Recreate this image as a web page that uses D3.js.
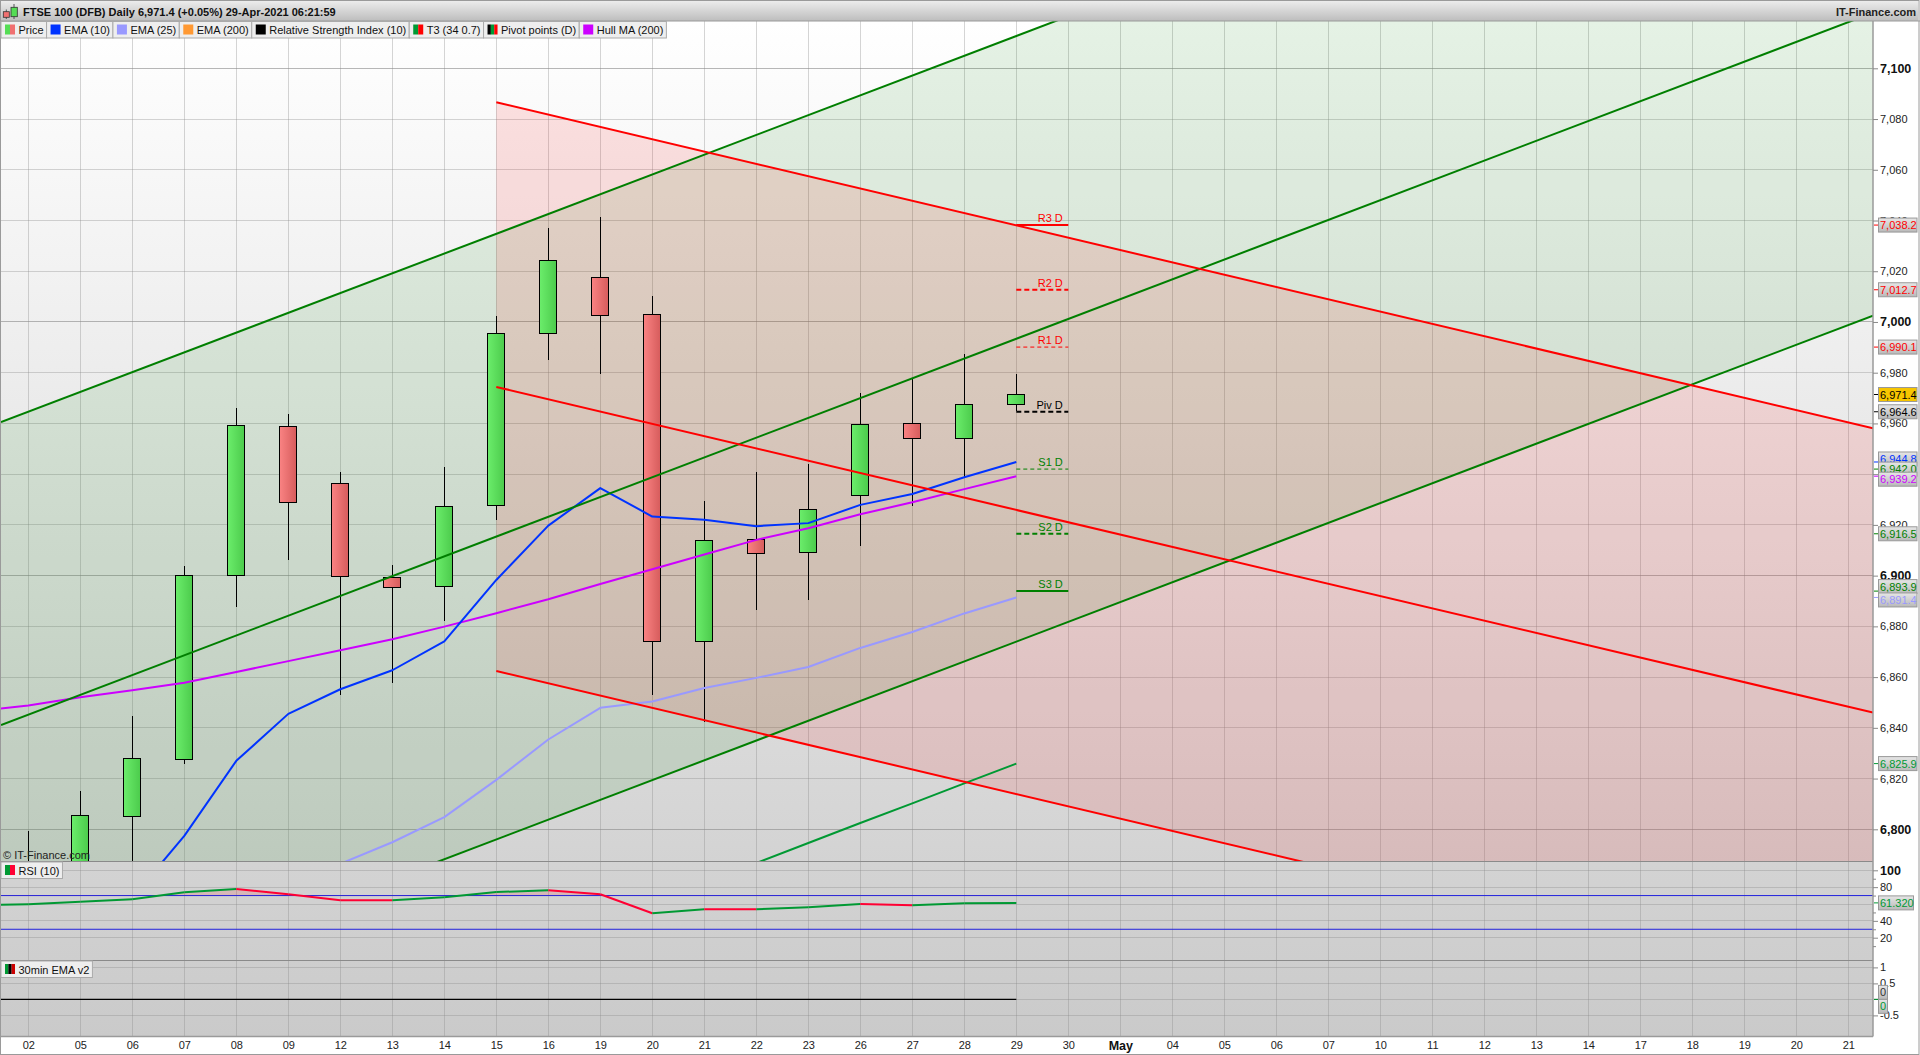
<!DOCTYPE html>
<html>
<head>
<meta charset="utf-8">
<script src="https://cdn.jsdelivr.net/npm/d3@7"></script>
<style>
  html, body { margin: 0; padding: 0; background: #fff; }
  svg { display: block; font-family: "Liberation Sans", Arial, sans-serif; font-size: 11px; }
  .axis path { display: none; }
  .axis line { stroke: #888; }
  .axis text { fill: #222; font-size: 11px; }
  .axis .major text { font-weight: bold; font-size: 12.5px; fill: #111; }
  .grid line { stroke: #8a8a8a; stroke-opacity: .36; shape-rendering: crispEdges; }
  .grid .major { stroke-opacity: .62; }
  .wick { stroke: #000; stroke-width: 1.1; shape-rendering: crispEdges; }
  .body { stroke: #000; stroke-width: 1; shape-rendering: crispEdges; }
  .ln { fill: none; stroke-width: 2; stroke-linejoin: round; }
</style>
</head>
<body>
<svg id="svg" width="1920" height="1055"></svg>
<script>
// x axis labels, one per trading day
var dayLabels = ["02","05","06","07","08","09","12","13","14","15","16","19","20","21","22","23","26","27","28","29","30","May","04","05","06","07","10","11","12","13","14","17","18","19","20","21"];

// candles, 02 Apr .. 29 Apr (first three open below the visible range)
var opens  = [6760, 6782, 6805.2, 6827.6, 6900.2, 6958.9, 6936.4, 6899.4, 6895.8, 6927.7, 6995.5, 7017.6, 7003, 6874, 6914.3, 6909.2, 6931.7, 6960.1, 6954.2, 6967.6];
var closes = [6780, 6805.6, 6828, 6900.2, 6959.3, 6928.9, 6899.8, 6895.3, 6927.4, 6995.3, 7024.3, 7002.6, 6874, 6914, 6908.8, 6926.2, 6959.7, 6954.2, 6967.6, 6971.5];
var highs  = [6799.4, 6815.1, 6844.7, 6903.8, 6966, 6963.7, 6940.9, 6904.2, 6942.8, 7002.4, 7037.1, 7041.3, 7010.2, 6929.4, 6940.9, 6944, 6971.9, 6977.5, 6987.3, 6979.5];
var lows   = [6750, 6775, 6780, 6825.9, 6887.8, 6906.3, 6853.1, 6857.8, 6882.3, 6922, 6985.1, 6979.6, 6852.8, 6842.3, 6886.5, 6890.4, 6911.8, 6927.6, 6939, 6965];

// indicators: values start at the given day index
var ema10Start = 2;
var ema10 = [6773, 6797.4, 6827, 6845.5, 6855.2, 6862.7, 6874.1, 6898.3, 6919.7, 6934.5, 6923.3, 6922, 6919.5, 6920.7, 6927.9, 6932.2, 6938.8, 6944.8];
var ema25Start = 6;
var ema25 = [6786.4, 6794.9, 6804.8, 6819.5, 6835.4, 6847.9, 6850.4, 6855.7, 6859.7, 6864, 6871.5, 6877.8, 6885.1, 6891.4];
var hullStart = -1;
var hull = [6846.5, 6848.8, 6852.1, 6854.8, 6857.8, 6862, 6866.3, 6870.6, 6874.9, 6879.9, 6885.2, 6890.7, 6896.7, 6902.5, 6908.3, 6914.1, 6918.7, 6924.2, 6928.9, 6934.1, 6939.2];
var t3Start = 14;
var t3 = [6786.7, 6794.6, 6802.5, 6810.2, 6818.1, 6825.9];
var rsiStart = -1;
var rsi = [58.5, 59.6, 62.7, 65.6, 73.9, 77.8, 71.5, 64.4, 64.4, 68, 74.2, 76.3, 71.5, 49, 53.7, 53.7, 56.1, 60, 58.5, 60.8, 61.32];

// channels: [index, value] end points
var greenUpper = [[-0.525, 6960.5], [35.475, 7241.2]];
var greenMid   = [[-0.525, 6841.1], [35.475, 7121.9]];
var greenLower = [[-0.525, 6721.7], [35.475, 7002.5]];
var redUpper   = [[9, 7086.6], [35.475, 6958.1]];
var redMid     = [[9, 6974.4], [35.475, 6846]];
var redLower   = [[9, 6862.4], [35.475, 6734]];

// daily pivots
var pivotNames  = ["R3 D", "R2 D", "R1 D", "Piv D", "S1 D", "S2 D", "S3 D"];
var pivotValues = [7038.2, 7012.7, 6990.1, 6964.6, 6942.0, 6916.5, 6893.9];

// axis ticks
var priceTicks = [7100, 7080, 7060, 7040, 7020, 7000, 6980, 6960, 6940, 6920, 6900, 6880, 6860, 6840, 6820, 6800];
var rsiTicks = [100, 80, 60, 40, 20];
var rsiLabels = [100, 80, 40, 20];
var rsiMinor = [90, 70, 50, 30, 10];
var rsiBands = [70, 30];
var emaTicks = [1, 0.5, 0, -0.5];
var emaLabels = [1, 0.5, -0.5];

// price tags on the right axis (drawn in this order)
var tagValues = [7038.2, 7012.7, 6990.1, 6971.4, 6964.6, 6944.8, 6942.0, 6939.2, 6916.5, 6893.9, 6891.4, 6825.9];

var legendNames = ["Price", "EMA (10)", "EMA (25)", "EMA (200)", "Relative Strength Index (10)", "T3 (34 0.7)", "Pivot points (D)", "Hull MA (200)"];

var titleText = "FTSE 100 (DFB) Daily 6,971.4 (+0.05%) 29-Apr-2021 06:21:59";

// ---- layout
var left = 1, right = 1873;
var top0 = 21, mainBottom = 861, rsiBottom = 960.5, emaBottom = 1036.5;

var svg = d3.select("#svg");
var x = d3.scaleLinear().domain([-0.525, 35.475]).range([left, right]);
var y = d3.scaleLinear().domain([7100, 6800]).range([68.3, 829.3]);
var yRsi = d3.scaleLinear().domain([100, 20]).range([870.3, 937.7]);
var yEma = d3.scaleLinear().domain([1, -0.5]).range([967.4, 1015.4]);

var defs = svg.append("defs");

function gradient(id, stops, horizontal) {
  var g = defs.append("linearGradient").attr("id", id)
    .attr("x1", 0).attr("y1", 0)
    .attr("x2", horizontal ? 1 : 0).attr("y2", horizontal ? 0 : 1);
  stops.forEach(function (s, i) {
    g.append("stop").attr("offset", i / (stops.length - 1)).attr("stop-color", s);
  });
}
gradient("bg", ["#ffffff", "#cacaca"]);
gradient("bar", ["#ececec", "#bdbdbd"]);
gradient("tag", ["#e6e6e6", "#b9b9b9"]);
gradient("up", ["#6cee6c", "#4ccb4c"], true);
gradient("down", ["#fb8484", "#d65c5c"], true);

defs.append("clipPath").attr("id", "clipMain").append("rect")
  .attr("x", left).attr("y", top0).attr("width", right - left).attr("height", mainBottom - top0);
defs.append("clipPath").attr("id", "clipRsi").append("rect")
  .attr("x", left).attr("y", mainBottom).attr("width", right - left).attr("height", rsiBottom - mainBottom);
defs.append("clipPath").attr("id", "clipRsiHigh").append("rect")
  .attr("x", left).attr("y", mainBottom).attr("width", right - left).attr("height", yRsi(70) - mainBottom);

// background
svg.append("rect").attr("width", 1920).attr("height", 1055).attr("fill", "#fff");
svg.append("rect").attr("x", left).attr("y", top0).attr("width", right - left).attr("height", emaBottom - top0).attr("fill", "url(#bg)");

// ---- grid
var grid = svg.append("g").attr("class", "grid");
grid.selectAll("line.v").data(dayLabels).enter().append("line").attr("class", "v")
  .attr("x1", function (d, i) { return x(i); }).attr("x2", function (d, i) { return x(i); })
  .attr("y1", top0).attr("y2", emaBottom);

function hLines(ticks, scale, isMajor) {
  grid.selectAll(null).data(ticks).enter().append("line")
    .attr("class", function (d) { return isMajor(d) ? "major" : null; })
    .attr("x1", left).attr("x2", right)
    .attr("y1", function (d) { return scale(d); }).attr("y2", function (d) { return scale(d); });
}
hLines(priceTicks, y, function (d) { return d % 100 === 0; });
hLines(rsiTicks, yRsi, function () { return false; });
hLines(emaTicks, yEma, function () { return false; });
grid.selectAll(null).data([mainBottom, rsiBottom]).enter().append("line").attr("class", "major")
  .attr("x1", left).attr("x2", right)
  .attr("y1", function (d) { return d; }).attr("y2", function (d) { return d; })
  .style("stroke-opacity", 1);

// ---- channels fill
var main = svg.append("g").attr("clip-path", "url(#clipMain)");
function band(lo, hi) {
  return d3.area()
    .x(function (d, i) { return x(lo[i][0]); })
    .y0(function (d, i) { return y(lo[i][1]); })
    .y1(function (d, i) { return y(hi[i][1]); })(lo);
}
main.append("path").attr("d", band(greenLower, greenUpper)).attr("fill", "#008000").attr("fill-opacity", .1);
main.append("path").attr("d", band(redLower, redUpper)).attr("fill", "#ff0000").attr("fill-opacity", .11);

// ---- candles
var days = opens.map(function (o, i) { return i; });
var bodyW = (x(1) - x(0)) / 3;
main.selectAll("line.wick").data(days).enter().append("line").attr("class", "wick")
  .attr("x1", function (i) { return x(i); }).attr("x2", function (i) { return x(i); })
  .attr("y1", function (i) { return y(highs[i]); }).attr("y2", function (i) { return y(lows[i]); });
main.selectAll("rect.body").data(days).enter().append("rect").attr("class", "body")
  .attr("x", function (i) { return x(i) - bodyW / 2 - .5; })
  .attr("width", bodyW)
  .attr("y", function (i) { return y(Math.max(opens[i], closes[i])); })
  .attr("height", function (i) { return Math.abs(y(opens[i]) - y(closes[i])); })
  .attr("fill", function (i) { return closes[i] >= opens[i] ? "url(#up)" : "url(#down)"; });

// ---- indicator lines
var line = d3.line().x(function (d) { return x(d[0]); }).y(function (d) { return y(d[1]); });
function series(values, start) {
  return values.map(function (v, i) { return [start + i, v]; });
}
function drawLine(parent, gen, pts, color, w) {
  return parent.append("path").attr("class", "ln").attr("d", gen(pts))
    .attr("stroke", color).style("stroke-width", w || 2);
}
drawLine(main, line, series(ema25, ema25Start), "#9999ff");
drawLine(main, line, series(hull, hullStart), "#cc00ff");
drawLine(main, line, series(ema10, ema10Start), "#0033ff");
drawLine(main, line, series(t3, t3Start), "#009933");
[greenUpper, greenMid, greenLower].forEach(function (c) { drawLine(main, line, c, "#007f00"); });
[redUpper, redMid, redLower].forEach(function (c) { drawLine(main, line, c, "#ff0000"); });

// ---- pivots
var pivotDash = { "R2 D": "5,3", "R1 D": "4,3", "Piv D": "5,3", "S1 D": "4,3", "S2 D": "5,3" };
var pivotThin = { "R1 D": 1, "S1 D": 1 };
function pivotColor(name) {
  return name[0] === "R" ? "#ff0000" : name[0] === "S" ? "#008000" : "#000000";
}
var piv = main.selectAll("g.pivot").data(pivotNames).enter().append("g").attr("class", "pivot");
piv.append("line")
  .attr("x1", x(19)).attr("x2", x(20))
  .attr("y1", function (d, i) { return y(pivotValues[i]); }).attr("y2", function (d, i) { return y(pivotValues[i]); })
  .attr("stroke", pivotColor)
  .attr("stroke-width", function (d) { return pivotThin[d] ? 1 : 2; })
  .attr("stroke-dasharray", function (d) { return pivotDash[d] || null; });
piv.append("text")
  .attr("x", x(20) - 5.5)
  .attr("y", function (d, i) { return y(pivotValues[i]) - 3; })
  .attr("text-anchor", "end")
  .attr("fill", pivotColor)
  .text(function (d) { return d; });

main.append("text").attr("x", 3).attr("y", 859).attr("font-size", 11).attr("fill", "#222").text("\u00a9 IT-Finance.com");

// ---- RSI pane
var rsiPane = svg.append("g").attr("clip-path", "url(#clipRsi)");
var rsiPts = series(rsi, rsiStart);
rsiPane.selectAll(null).data(rsiBands).enter().append("line")
  .attr("x1", left).attr("x2", right)
  .attr("y1", function (d) { return yRsi(d); }).attr("y2", function (d) { return yRsi(d); })
  .attr("stroke", "#2222dd").attr("stroke-width", 1);
rsiPane.append("path")
  .attr("clip-path", "url(#clipRsiHigh)")
  .attr("d", d3.area().x(function (d) { return x(d[0]); }).y0(yRsi(70)).y1(function (d) { return yRsi(d[1]); })(rsiPts))
  .attr("fill", "#ff0000").attr("fill-opacity", .12);
var lineRsi = d3.line().x(function (d) { return x(d[0]); }).y(function (d) { return yRsi(d[1]); });
rsiPts.slice(1).forEach(function (p, i) {
  var prev = rsiPts[i];
  drawLine(rsiPane, lineRsi, [prev, p], p[1] > prev[1] ? "#009933" : "#ff0033");
});

// ---- 30min EMA pane
svg.append("line").attr("x1", left).attr("x2", x(19))
  .attr("y1", yEma(0)).attr("y2", yEma(0)).attr("stroke", "#000").attr("stroke-width", 1.2);

// ---- frame
var frame = "#9a9a9a";
svg.append("line").attr("x1", right).attr("x2", right).attr("y1", top0).attr("y2", emaBottom).attr("stroke", frame).attr("stroke-width", 1.5);
svg.append("line").attr("x1", left).attr("x2", right).attr("y1", emaBottom).attr("y2", emaBottom).attr("stroke", frame).attr("stroke-width", 1.5);
svg.append("rect").attr("x", .5).attr("y", .5).attr("width", 1918.5).attr("height", 1054).attr("fill", "none").attr("stroke", frame);

// ---- axes
function axisPane(scale, ticks, fmt, isMajor) {
  var g = svg.append("g").attr("class", "axis").attr("transform", "translate(" + right + ",0)")
    .call(d3.axisRight(scale).tickValues(ticks).tickSize(5).tickPadding(2).tickFormat(fmt));
  g.selectAll(".tick").classed("major", isMajor);
  return g;
}
var comma = d3.format(",");
axisPane(y, priceTicks, comma, function (d) { return d % 100 === 0; });
axisPane(yRsi, rsiLabels, String, function (d) { return d === 100; });
svg.append("g").attr("class", "axis").attr("transform", "translate(" + right + ",0)")
  .call(d3.axisRight(yRsi).tickValues(rsiMinor).tickSize(3).tickFormat(""));
axisPane(yEma, emaLabels, String, function () { return false; });

var bottomAxis = svg.append("g").attr("class", "axis").attr("transform", "translate(0," + emaBottom + ")")
  .call(d3.axisBottom(x).tickValues(d3.range(dayLabels.length)).tickSize(0).tickPadding(5)
    .tickFormat(function (i) { return dayLabels[i]; }));
bottomAxis.selectAll(".tick").classed("major", function (i) { return dayLabels[i] === "May"; });

// ---- price tags
var tagColors = { 7038.2: "#ff0000", 7012.7: "#ff0000", 6990.1: "#ff0000", 6971.4: "#000000", 6964.6: "#000000",
  6944.8: "#0033ff", 6942.0: "#008000", 6939.2: "#cc00ff", 6916.5: "#008000", 6893.9: "#008000", 6891.4: "#9999ff", 6825.9: "#009933" };
var tagShift = { 6944.8: -3, 6942.0: 0, 6939.2: 3, 6893.9: -4.5, 6891.4: 2.5 };
function drawTag(value, text, cy, color, w, fill) {
  svg.append("line").attr("x1", right + 1).attr("x2", right + 5).attr("y1", value).attr("y2", value).attr("stroke", color);
  svg.append("rect").attr("x", 1878.5).attr("y", cy - 7).attr("width", w).attr("height", 14)
    .attr("fill", fill || "url(#tag)").attr("stroke", "#999").attr("stroke-width", 1);
  svg.append("text").attr("x", 1880).attr("y", cy + 4).attr("fill", color).attr("font-size", 11).text(text);
}
tagValues.forEach(function (v) {
  drawTag(y(v), d3.format(",.1f")(v), y(v) + (tagShift[v] || 0), tagColors[v], 38.5, v === 6971.4 ? "#f7c600" : null);
});
drawTag(yRsi(rsi[rsi.length - 1]), "61.320", yRsi(rsi[rsi.length - 1]), "#009933", 35);
drawTag(yEma(0), "0", yEma(0) - 7, "#333333", 9);
drawTag(yEma(0), "0", yEma(0) + 7, "#009933", 9);

// ---- title bar
svg.append("rect").attr("x", 1).attr("y", 1).attr("width", 1917).attr("height", 20).attr("fill", "url(#bar)");
svg.append("line").attr("x1", 0).attr("x2", 1920).attr("y1", 21).attr("y2", 21).attr("stroke", frame);
var icon = svg.append("g").attr("stroke", "#333").attr("stroke-width", .8);
icon.append("line").attr("x1", 6.3).attr("x2", 6.3).attr("y1", 9.5).attr("y2", 19);
icon.append("rect").attr("x", 3.3).attr("y", 11.7).attr("width", 6).attr("height", 5.6).attr("fill", "#f07070");
icon.append("line").attr("x1", 14).attr("x2", 14).attr("y1", 4).attr("y2", 19);
icon.append("rect").attr("x", 11).attr("y", 7.3).attr("width", 6.3).attr("height", 9.4).attr("fill", "#55dd55");
svg.append("text").attr("x", 23).attr("y", 16).attr("font-weight", "bold").attr("font-size", 11).attr("fill", "#111").text(titleText);
svg.append("text").attr("x", 1916).attr("y", 16).attr("text-anchor", "end").attr("font-weight", "bold").attr("font-size", 11).attr("fill", "#222").text("IT-Finance.com");

// ---- legends
var legendSwatches = [["#55dd55", "#f07070"], ["#0033ff"], ["#9999ff"], ["#ff9933"], ["#000000"], ["#009933", "#ff0000"], ["#000000", "#009933", "#ff0000"], ["#cc00ff"]];

function legendItem(px, py, label, colors) {
  var g = svg.append("g");
  var box = g.append("rect").attr("x", px).attr("y", py).attr("height", 16.5)
    .attr("fill", "#eeeeee").attr("stroke", "#aaa");
  var sw = 10 / colors.length;
  colors.forEach(function (c, i) {
    g.append("rect").attr("x", px + 4 + i * sw).attr("y", py + 3).attr("width", sw).attr("height", 10).attr("fill", c);
  });
  var t = g.append("text").attr("x", px + 17.5).attr("y", py + 12.5).attr("font-size", 11).attr("fill", "#111").text(label);
  var w = t.node().getComputedTextLength() + 20.5;
  box.attr("width", w);
  return px + w;
}
var lx = 1;
legendNames.forEach(function (n, i) { lx = legendItem(lx, 21.5, n, legendSwatches[i]); });
legendItem(1, 862, "RSI (10)", ["#009933", "#ff0033"]);
legendItem(1, 961, "30min EMA v2", ["#009933", "#000000", "#cc0000"]);
</script>
</body>
</html>
